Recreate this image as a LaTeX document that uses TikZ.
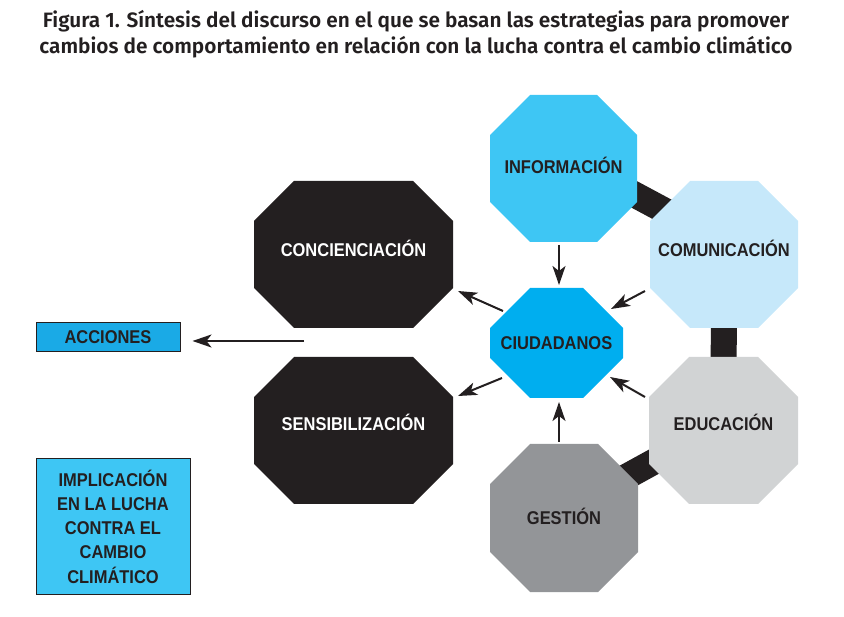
\documentclass[tikz,border=0pt]{standalone}
\usepackage{fontspec}
\setmainfont{Liberation Sans}
\newfontfamily\nodefont[FakeStretch=0.89]{Liberation Sans}
\newfontfamily\titlefont{Fira Sans SemiBold}
\usetikzlibrary{calc,arrows.meta,backgrounds}
\definecolor{cblack}{HTML}{231F20}
\definecolor{cinfo}{HTML}{3EC6F4}
\definecolor{ccomu}{HTML}{C6E8FA}
\definecolor{cciud}{HTML}{00AEEF}
\definecolor{cacc}{HTML}{1AAAE6}
\definecolor{cedu}{HTML}{D1D3D4}
\definecolor{cges}{HTML}{939598}
\tikzset{
  octo/.style n args={3}{minimum width=#1pt, minimum height=#2pt, inner sep=0pt, outer sep=0pt,
    font=\nodefont\bfseries\fontsize{18.5}{20}\selectfont, text=cblack,
    text height=13pt, text depth=0pt,
    path picture={\fill[#3]
      ([xshift=40pt]path picture bounding box.north west) --
      ([xshift=-40pt]path picture bounding box.north east) --
      ([yshift=-40pt]path picture bounding box.north east) --
      ([yshift=40pt]path picture bounding box.south east) --
      ([xshift=-40pt]path picture bounding box.south east) --
      ([xshift=40pt]path picture bounding box.south west) --
      ([yshift=40pt]path picture bounding box.south west) --
      ([yshift=-40pt]path picture bounding box.north west) -- cycle;}},
  lift/.style={text depth=#1pt},
  tagbox/.style={draw=cblack, line width=1pt, inner sep=0pt,
    font=\nodefont\bfseries\fontsize{18.5}{24.3}\selectfont, text=cblack, align=center},
  arr/.style={draw=cblack, line width=2pt, -{Stealth[length=19pt,width=13pt,inset=5pt]}},
  bar/.style={draw=cblack, line width=26pt}
}
\begin{document}
\begin{tikzpicture}[x=1pt,y=-1pt]
\useasboundingbox (0,0) rectangle (844,617);
\node[font=\titlefont\fontsize{20.8}{26}\selectfont, text=cblack, align=center] (title) at (416,34)
  {Figura 1. Síntesis del discurso en el que se basan las estrategias para promover\\
   cambios de comportamiento en relación con la lucha contra el cambio climático};

\node[octo={147}{147}{cinfo}, lift=3.6] (info) at (563.5,168.5) {INFORMACIÓN};
\node[octo={148}{147}{ccomu}, lift=9] (comu) at (724,254.5) {COMUNICACIÓN};
\node[octo={133}{110}{cciud}] (ciud) at (556.5,343) {CIUDADANOS};
\node[octo={149}{147}{cedu}, lift=13] (edu) at (723.5,430.5) {EDUCACIÓN};
\node[octo={148}{148}{cges}] (ges) at (564,518) {GESTIÓN};
\node[octo={199}{147}{cblack}, lift=9, text=white] (conc) at (353.5,254.5) {CONCIENCIACIÓN};
\node[octo={199}{147}{cblack}, lift=13, text=white] (sens) at (353.5,430.5) {SENSIBILIZACIÓN};

\node[tagbox, fill=cacc, minimum width=144pt, minimum height=29pt] (acc) at (108,337.5) {ACCIONES};
\node[tagbox, fill=cinfo, minimum width=154pt, minimum height=135pt] (impl) at (113,526.5)
  {IMPLICACIÓN\\EN LA LUCHA\\CONTRA EL\\CAMBIO\\CLIMÁTICO};

\begin{scope}[on background layer]
  \draw[bar] ([yshift=12pt]info.center) -- ([yshift=12pt]comu.center);
  \draw[bar] (comu.center) -- (edu.center);
  \draw[bar] ([yshift=7pt]edu.center) -- ([yshift=7pt]ges.center);
\end{scope}

\draw[arr] ($(info)+(-4.5,76.5)$) -- ($(ciud)+(2.5,-58)$);
\draw[arr] ($(comu)+(-79,36.5)$) -- ($(ciud)+(54.5,-34)$);
\draw[arr] ($(ciud)+(-53.5,-32)$) -- ($(conc)+(104.5,36.5)$);
\draw[arr] ($(ciud)+(-54.5,35)$) -- ($(sens)+(104.5,-34.5)$);
\draw[arr] ($(edu)+(-78.5,-33.5)$) -- ($(ciud)+(53.5,34)$);
\draw[arr] ($(ges)+(-5,-76)$) -- ($(ciud)+(2.5,59)$);
\coordinate (split) at (304,341);
\draw[arr, shorten >=12pt] (split) -- (split -| acc.east);
\end{tikzpicture}
\end{document}
